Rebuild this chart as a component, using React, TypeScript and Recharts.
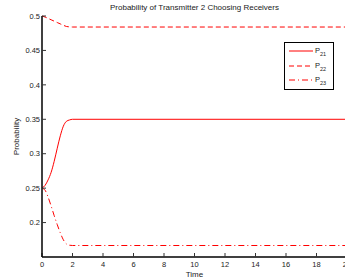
import { LineChart, Line, XAxis, YAxis } from "recharts";

const times = [0, 0.2, 0.4, 0.6, 0.8, 1.0, 1.2, 1.4, 1.6, 1.8, 2.0, 20];
const p21 = [0.25, 0.254, 0.262, 0.273, 0.289, 0.308, 0.326, 0.34, 0.347, 0.349, 0.35, 0.35];
const p22 = [0.5, 0.4985, 0.4965, 0.4945, 0.4925, 0.4905, 0.4885, 0.4865, 0.4848, 0.4842, 0.484, 0.484];
const p23 = [0.25, 0.247, 0.237, 0.224, 0.21, 0.197, 0.185, 0.175, 0.169, 0.1671, 0.1667, 0.1667];

const xTicks = [0, 2, 4, 6, 8, 10, 12, 14, 16, 18, 20];
const yTicks = [0.2, 0.25, 0.3, 0.35, 0.4, 0.45, 0.5];

const series = [
  { key: "p21", sub: "21", dash: undefined },
  { key: "p22", sub: "22", dash: "5 3" },
  { key: "p23", sub: "23", dash: "6 3 1 3" },
];

const data = times.map((t, i) => ({ t, p21: p21[i], p22: p22[i], p23: p23[i] }));

const font = "'Liberation Sans', Arial, sans-serif";
const tickStyle = { fontSize: 7.5, fill: "#222", fontFamily: font };

function LegendBox() {
  return (
    <div
      style={{
        position: "absolute",
        left: 284,
        top: 42,
        border: "1px solid #000",
        background: "#fff",
        width: 48,
        height: 45,
        fontFamily: font,
        fontSize: 7.5,
        color: "#222",
        paddingTop: 1,
      }}
    >
      {series.map((s) => (
        <div key={s.key} style={{ display: "flex", alignItems: "center", height: 14.5 }}>
          <svg width={26} height={6} style={{ marginLeft: 4 }}>
            <line x1={0} y1={3} x2={24} y2={3} stroke="#ff0000" strokeWidth={1} strokeDasharray={s.dash} />
          </svg>
          <span>
            P<sub style={{ fontSize: 5.5 }}>{s.sub}</sub>
          </span>
        </div>
      ))}
    </div>
  );
}

export default function App() {
  return (
    <div style={{ position: "absolute", left: 0, top: 0, width: 345, height: 279, overflow: "hidden", background: "#fff" }}>
      <div
        style={{
          position: "absolute",
          left: 0,
          width: 389,
          top: 4,
          textAlign: "center",
          fontFamily: font,
          fontSize: 8,
          lineHeight: "8px",
          color: "#222",
          whiteSpace: "nowrap",
        }}
      >
        Probability of Transmitter 2 Choosing Receivers
      </div>
      <LineChart width={360} height={279} data={data} margin={{ top: 16, right: 13, left: 0, bottom: 0 }}>
        <XAxis
          dataKey="t"
          type="number"
          domain={[0, 20]}
          ticks={xTicks}
          height={22}
          tickSize={-4}
          tickMargin={8.5}
          tick={tickStyle}
          axisLine={{ stroke: "#000", strokeWidth: 1.5 }}
          tickLine={{ stroke: "#333" }}
          interval={0}
          label={{ value: "Time", position: "insideBottom", offset: 2.5, style: { fontSize: 8, fill: "#222", fontFamily: font } }}
        />
        <XAxis
          xAxisId="top"
          orientation="top"
          dataKey="t"
          type="number"
          domain={[0, 20]}
          ticks={xTicks}
          height={0}
          tickSize={-4}
          tick={false}
          axisLine={{ stroke: "#000", strokeWidth: 1 }}
          tickLine={{ stroke: "#333" }}
          interval={0}
        />
        <YAxis
          type="number"
          domain={[0.15, 0.5]}
          ticks={yTicks}
          width={42}
          tickSize={-4}
          tickMargin={6}
          tick={tickStyle}
          interval={0}
          axisLine={{ stroke: "#000", strokeWidth: 1.5 }}
          tickLine={{ stroke: "#333" }}
          label={{
            value: "Probability",
            angle: -90,
            position: "insideLeft",
            offset: 16,
            style: { fontSize: 8, fill: "#222", fontFamily: font, textAnchor: "middle" },
          }}
        />
        <YAxis
          yAxisId="right"
          orientation="right"
          type="number"
          domain={[0.15, 0.5]}
          ticks={yTicks}
          width={0}
          tickSize={-4}
          tick={false}
          interval={0}
          axisLine={{ stroke: "#000", strokeWidth: 1 }}
          tickLine={{ stroke: "#333" }}
        />
        {series.map((s) => (
          <Line
            key={s.key}
            dataKey={s.key}
            type="monotone"
            stroke="#ff0000"
            strokeWidth={1}
            strokeDasharray={s.dash}
            dot={false}
            activeDot={false}
            isAnimationActive={false}
          />
        ))}
      </LineChart>
      <LegendBox />
    </div>
  );
}
